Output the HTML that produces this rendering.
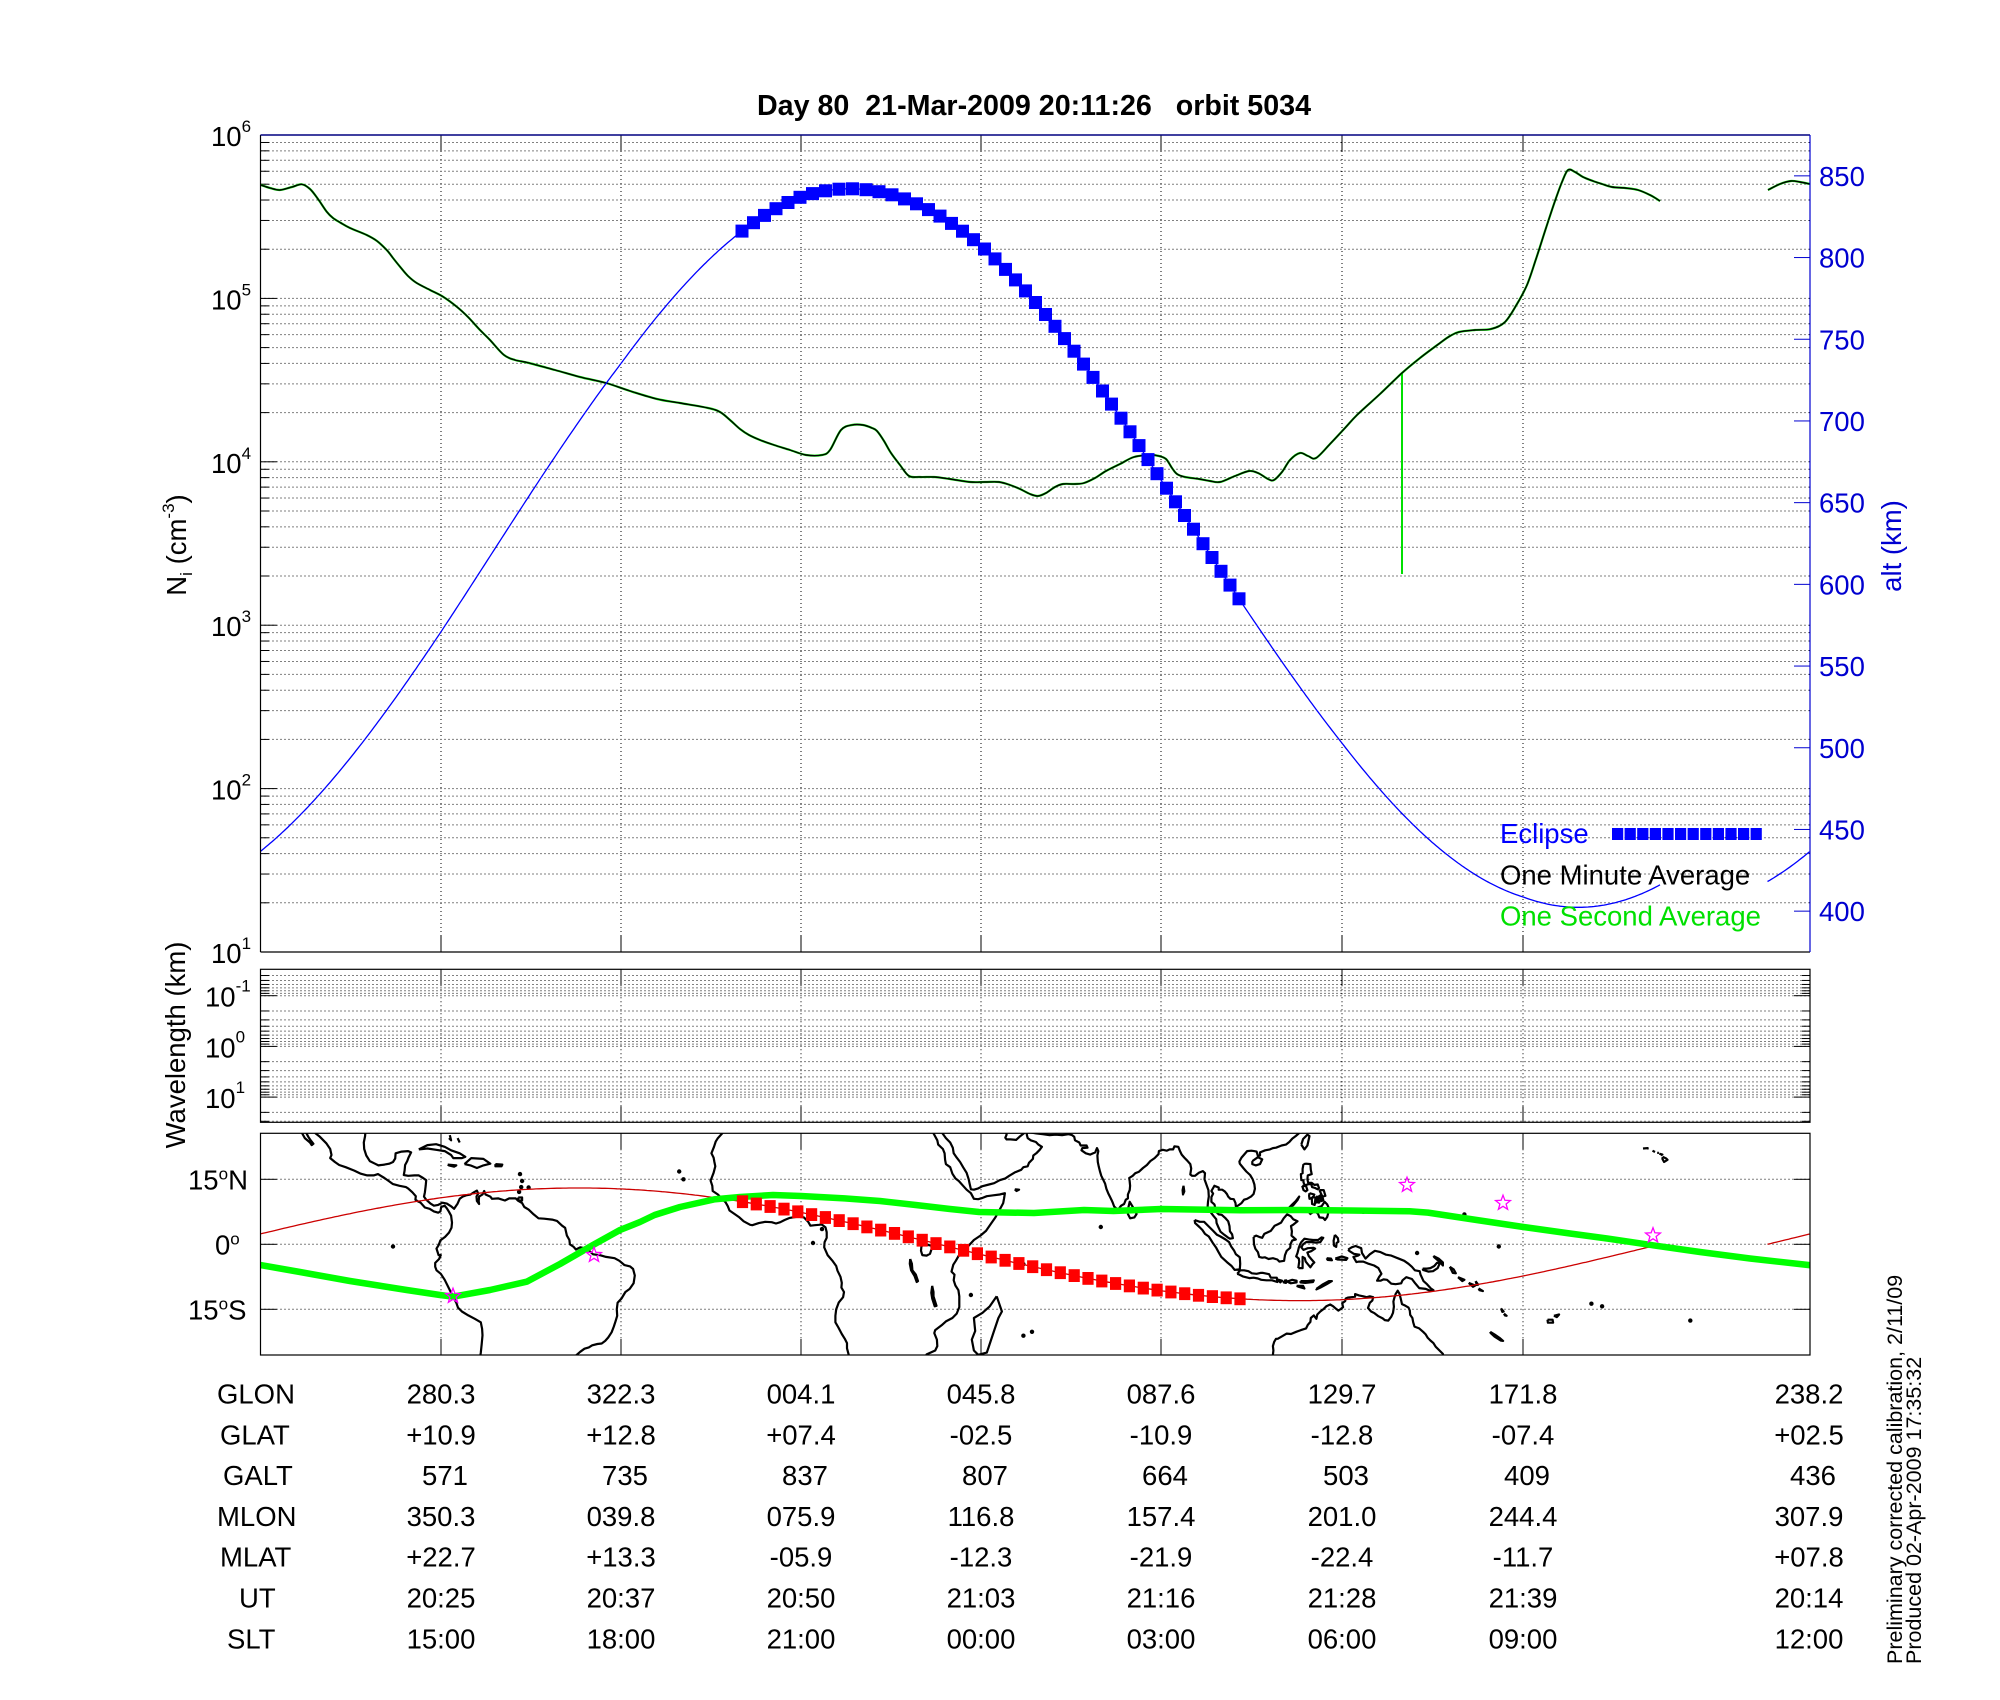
<!DOCTYPE html>
<html><head><meta charset="utf-8">
<style>
html,body{margin:0;padding:0;background:#fff;}
svg{display:block;}
text{font-family:"Liberation Sans",Arial,Helvetica,sans-serif;}
</style></head>
<body>
<svg id="s" width="2000" height="1700" viewBox="0 0 2000 1700" xmlns="http://www.w3.org/2000/svg">
<rect width="2000" height="1700" fill="#fff"/>
<defs>
<clipPath id="cTop"><rect x="260.5" y="135" width="1549.5" height="817"/></clipPath>
<clipPath id="cMap"><rect x="260.5" y="1133.3" width="1549.5" height="221.7"/></clipPath>
</defs>
<g id="dyn"></g>

<!-- Title -->
<text x="757" y="115" font-size="28.5" font-weight="bold" textLength="554" lengthAdjust="spacingAndGlyphs" xml:space="preserve" style="white-space:pre">Day 80  21-Mar-2009 20:11:26   orbit 5034</text>

<!-- Left tick labels top panel -->
<g font-size="27.5" fill="#000">
<text x="211" y="146">10<tspan font-size="17" dy="-14">6</tspan></text>
<text x="211" y="309.4">10<tspan font-size="17" dy="-14">5</tspan></text>
<text x="211" y="472.8">10<tspan font-size="17" dy="-14">4</tspan></text>
<text x="211" y="636.2">10<tspan font-size="17" dy="-14">3</tspan></text>
<text x="211" y="799.6">10<tspan font-size="17" dy="-14">2</tspan></text>
<text x="211" y="963">10<tspan font-size="17" dy="-14">1</tspan></text>
</g>

<!-- Right alt labels -->
<g font-size="27.5" fill="#0000d0">
<text x="1819" y="186">850</text>
<text x="1819" y="267.7">800</text>
<text x="1819" y="349.4">750</text>
<text x="1819" y="431">700</text>
<text x="1819" y="512.7">650</text>
<text x="1819" y="594.4">600</text>
<text x="1819" y="676">550</text>
<text x="1819" y="757.8">500</text>
<text x="1819" y="839.5">450</text>
<text x="1819" y="921.2">400</text>
</g>
<text transform="translate(1901,546) rotate(-90)" text-anchor="middle" font-size="27.5" fill="#0000d0">alt (km)</text>
<text transform="translate(186,545) rotate(-90)" text-anchor="middle" font-size="27.5" fill="#000">N<tspan font-size="17" dy="6">i</tspan><tspan dy="-6"> (cm</tspan><tspan font-size="17" dy="-12">-3</tspan><tspan dy="12">)</tspan></text>

<!-- Legend -->
<text x="1500" y="843" font-size="27.5" fill="#0000ff">Eclipse</text>
<text x="1500" y="884.4" font-size="27.5" fill="#000">One Minute Average</text>
<text x="1500" y="925.4" font-size="27.5" fill="#00e000">One Second Average</text>

<!-- Middle panel labels -->
<g font-size="27.5" fill="#000">
<text x="205" y="1006.5">10<tspan font-size="17" dy="-15">-1</tspan></text>
<text x="205" y="1057.4">10<tspan font-size="17" dy="-15">0</tspan></text>
<text x="205" y="1108">10<tspan font-size="17" dy="-15">1</tspan></text>
</g>
<text transform="translate(185,1045) rotate(-90)" text-anchor="middle" font-size="27.5" fill="#000">Wavelength (km)</text>

<!-- Map labels -->
<g font-size="27.5" fill="#000">
<text x="188" y="1189.3">15<tspan font-size="17" dy="-10">o</tspan><tspan dy="10">N</tspan></text>
<text x="215" y="1254.3">0<tspan font-size="17" dy="-10">o</tspan></text>
<text x="188" y="1319.3">15<tspan font-size="17" dy="-10">o</tspan><tspan dy="10">S</tspan></text>
</g>

<!-- Table -->
<g font-size="27.5" fill="#000">
<text x="217" y="1403.5">GLON</text>
<text x="220" y="1444.3">GLAT</text>
<text x="223" y="1485.1">GALT</text>
<text x="217" y="1525.9">MLON</text>
<text x="220" y="1566.7">MLAT</text>
<text x="239" y="1607.5">UT</text>
<text x="227" y="1648.3">SLT</text>
</g>
<g font-size="27.5" fill="#000" text-anchor="middle">
<text x="441" y="1403.5">280.3</text><text x="621" y="1403.5">322.3</text><text x="801" y="1403.5">004.1</text><text x="981" y="1403.5">045.8</text><text x="1161" y="1403.5">087.6</text><text x="1342" y="1403.5">129.7</text><text x="1523" y="1403.5">171.8</text><text x="1809" y="1403.5">238.2</text>
<text x="441" y="1444.3">+10.9</text><text x="621" y="1444.3">+12.8</text><text x="801" y="1444.3">+07.4</text><text x="981" y="1444.3">-02.5</text><text x="1161" y="1444.3">-10.9</text><text x="1342" y="1444.3">-12.8</text><text x="1523" y="1444.3">-07.4</text><text x="1809" y="1444.3">+02.5</text>
<text x="445" y="1485.1">571</text><text x="625" y="1485.1">735</text><text x="805" y="1485.1">837</text><text x="985" y="1485.1">807</text><text x="1165" y="1485.1">664</text><text x="1346" y="1485.1">503</text><text x="1527" y="1485.1">409</text><text x="1813" y="1485.1">436</text>
<text x="441" y="1525.9">350.3</text><text x="621" y="1525.9">039.8</text><text x="801" y="1525.9">075.9</text><text x="981" y="1525.9">116.8</text><text x="1161" y="1525.9">157.4</text><text x="1342" y="1525.9">201.0</text><text x="1523" y="1525.9">244.4</text><text x="1809" y="1525.9">307.9</text>
<text x="441" y="1566.7">+22.7</text><text x="621" y="1566.7">+13.3</text><text x="801" y="1566.7">-05.9</text><text x="981" y="1566.7">-12.3</text><text x="1161" y="1566.7">-21.9</text><text x="1342" y="1566.7">-22.4</text><text x="1523" y="1566.7">-11.7</text><text x="1809" y="1566.7">+07.8</text>
<text x="441" y="1607.5">20:25</text><text x="621" y="1607.5">20:37</text><text x="801" y="1607.5">20:50</text><text x="981" y="1607.5">21:03</text><text x="1161" y="1607.5">21:16</text><text x="1342" y="1607.5">21:28</text><text x="1523" y="1607.5">21:39</text><text x="1809" y="1607.5">20:14</text>
<text x="441" y="1648.3">15:00</text><text x="621" y="1648.3">18:00</text><text x="801" y="1648.3">21:00</text><text x="981" y="1648.3">00:00</text><text x="1161" y="1648.3">03:00</text><text x="1342" y="1648.3">06:00</text><text x="1523" y="1648.3">09:00</text><text x="1809" y="1648.3">12:00</text>
</g>

<!-- Side notes -->
<text transform="translate(1902,1664) rotate(-90)" font-size="21.5" fill="#000">Preliminary corrected calibration, 2/11/09</text>
<text transform="translate(1921,1664) rotate(-90)" font-size="21.5" fill="#000">Produced 02-Apr-2009 17:35:32</text>
</svg>

<script>
(function(){
const NS='http://www.w3.org/2000/svg';
const root=document.getElementById('dyn');
function E(tag,a,p){const e=document.createElementNS(NS,tag);for(const k in a)e.setAttribute(k,a[k]);(p||root).appendChild(e);return e;}
function L(x1,y1,x2,y2,c,w,d,p){const a={x1:x1,y1:y1,x2:x2,y2:y2,stroke:c||'#000','stroke-width':w||1};if(d)a['stroke-dasharray']=d;return E('line',a,p);}
function smooth(pts){let d='M'+pts[0][0].toFixed(1)+','+pts[0][1].toFixed(1);for(let i=0;i<pts.length-1;i++){const p0=pts[i-1]||pts[i],p1=pts[i],p2=pts[i+1],p3=pts[i+2]||pts[i+1];const c1x=p1[0]+(p2[0]-p0[0])/6,c1y=p1[1]+(p2[1]-p0[1])/6,c2x=p2[0]-(p3[0]-p1[0])/6,c2y=p2[1]-(p3[1]-p1[1])/6;d+=' C'+c1x.toFixed(1)+','+c1y.toFixed(1)+' '+c2x.toFixed(1)+','+c2y.toFixed(1)+' '+p2[0].toFixed(1)+','+p2[1].toFixed(1);}return d;}
const XL=260.5,XR=1810,cols=[441,621,801,981,1161,1342,1523],DOT='1 3';

/* ================= TOP PANEL ================= */
const T=135,B=952;
function yN(v){return B-(Math.log10(v)-1)*163.4;}
for(let k=1;k<=5;k++)for(let m=1;m<=9;m++){const y=yN(m*Math.pow(10,k));if(y>=B-0.5||y<=T+0.5)continue;L(XL,y,XR,y,'#000',1,DOT);L(XL,y,XL+(m==1?16:8),y,'#000',1);}
L(XL,T,XL+16,T,'#000',1);
cols.forEach(x=>{L(x,T,x,B,'#000',1,DOT);L(x,B,x,B-16,'#000',1);L(x,T,x,T+16,'#000',1);});
function yA(a){return T+(875-a)*1.634;}
for(let a=400;a<=850;a+=50){const y=yA(a);L(XR-16,y,XR,y,'#0000d0',1);}

/* Ni curve */
const ni=[[260.7,185],[270,188],[280,190],[292,187],[301.7,184.3],[310,189],[318,199],[326.7,211.7],[333,218],[341,223],[350,228],[366.7,235],[377,241],[386.7,250],[393,258],[400,266.7],[408,276],[416.7,283],[430,290],[443,296.7],[456.7,306.7],[468,317],[480,330],[490,340],[504,355],[515,360],[529,363],[555,370],[580,377],[606,383],[630,391],[657,399],[680,403],[708,408],[720,412],[730,420],[740,429],[749,435],[760,440],[774,445],[790,450],[806,455],[822,455],[830,450],[841,430],[852,425],[863,425],[872,428],[877,431],[884,441],[891,453],[900,465],[909,476],[920,477],[934,477],[950,479],[970,482],[985,482],[999,482],[1010,485],[1020,489],[1030,494],[1038,496],[1046,493],[1055,487],[1063,484],[1075,484],[1084,483],[1095,478],[1106,471],[1120,464],[1134,457],[1150,455],[1159,456],[1166,459],[1172,468],[1177,474],[1185,477],[1199,479],[1210,481],[1220,482],[1235,476],[1249,471],[1258,473],[1268,479],[1274,480],[1282,472],[1290,460],[1300,453],[1308,456],[1316,458],[1330,444],[1345,428],[1357,415],[1380,394],[1402,373],[1420,358],[1440,343],[1450,336],[1459,332],[1475,330],[1491,329],[1505,322],[1517,304],[1527,285],[1536,259],[1546,228],[1555,201],[1562,182],[1568,170],[1575,172],[1583,177],[1593,181],[1602,184],[1612,187],[1625,188],[1638,190],[1650,195],[1660,201]];
const ni2=[[1768,190],[1780,184],[1791,181],[1800,182],[1810,184]];
const gTop=E('g',{'clip-path':'url(#cTop)'});
E('path',{d:smooth(ni)+' '+smooth(ni2),fill:'none',stroke:'#00e000','stroke-width':2.2},gTop);
L(1402,373,1402,574,'#00e000',2,null,gTop);
E('path',{d:smooth(ni)+' '+smooth(ni2),fill:'none',stroke:'#000','stroke-width':1.4},gTop);

/* altitude */
function corr(u){const P=[[218,0],[260,0],[441,-3.5],[621,-5],[742,-1.5],[801,0],[981,-1.5],[1161,-7.6],[1239,-6],[1342,-2],[1523,1],[1660,-2]];if(u<=P[0][0])return P[0][1];for(let i=1;i<P.length;i++){if(u<=P[i][0]){const t=(u-P[i-1][0])/(P[i][0]-P[i-1][0]);return P[i-1][1]+t*(P[i][1]-P[i-1][1]);}}return P[P.length-1][1];}
function alt(u){return 622.5+220*Math.cos(2*Math.PI*(u-852)/1442)+corr(u);}
let d='';for(let u=260;u<=1660;u+=2){d+=(u==260?'M':'L')+u+','+yA(alt(u)).toFixed(1)+' ';}
for(let u=218;u<=260;u+=2){d+=(u==218?'M':'L')+(u+1549.5)+','+yA(alt(u)).toFixed(1)+' ';}
E('path',{d:d,fill:'none',stroke:'#0000ff','stroke-width':1.3},gTop);
/* eclipse markers */
{const pts=[];for(let u=742;u<=1239;u+=0.5)pts.push([u,yA(alt(u))]);
 const par=[0];for(let i=1;i<pts.length;i++)par.push(par[i-1]+(pts[i][0]-pts[i-1][0])+0.34*Math.abs(pts[i][1]-pts[i-1][1]));
 const tot=par[par.length-1];const N=Math.round(tot/13.8)+1;let j=0;
 for(let n=0;n<N;n++){const s=tot*n/(N-1);while(j<par.length-1&&par[j]<s)j++;const p=pts[j];E('rect',{x:(p[0]-6.5).toFixed(1),y:(p[1]-6.5).toFixed(1),width:13,height:13,fill:'#0000ff'},gTop);}
}
/* legend squares */
for(let i=0;i<12;i++)E('rect',{x:1612+i*12.6,y:828,width:11.2,height:12,fill:'#0000ff'});

/* borders */
L(XL,T,XL,B,'#000',1.2);L(XL,B,XR,B,'#000',1.2);L(XL,T,XR,T,'#000080',1.6);L(XR,T,XR,B,'#0000d0',1.2);

/* ================= MIDDLE PANEL ================= */
const MT=969.3,MB=1122.3;
function yW(v){return 995.7+(Math.log10(v)+1)*50.7;}
for(let k=-2;k<=1;k++)for(let m=1;m<=9;m++){const y=yW(m*Math.pow(10,k));if(y<=MT+0.5||y>=MB-0.5)continue;L(XL,y,XR,y,'#000',1,DOT);const tl=m==1?16:8;L(XL,y,XL+tl,y,'#000',1);L(XR-tl,y,XR,y,'#000',1);}
cols.forEach(x=>{L(x,MT,x,MB,'#000',1,DOT);L(x,MT,x,MT+16,'#000',1);L(x,MB,x,MB-16,'#000',1);});
E('rect',{x:XL,y:MT,width:XR-XL,height:MB-MT,fill:'none',stroke:'#000','stroke-width':1.2});

/* ================= MAP PANEL ================= */
const PT=1133.3,PB=1355;
function mx(lon){let g=((lon%360)+360)%360;if(g<238.2)g+=360;return 260.5+(g-238.2)*4.3028;}
function my(lat){return 1244.3-lat*4.3333;}
[15,0,-15].forEach(l=>{const y=my(l);L(XL,y,XR,y,'#000',1,DOT);L(XL,y,XL+16,y,'#000',1);L(XR-16,y,XR,y,'#000',1);});
cols.forEach(x=>{L(x,PT,x,PB,'#000',1,DOT);L(x,PT,x,PT+16,'#000',1);L(x,PB,x,PB-16,'#000',1);});
const gMap=E('g',{'clip-path':'url(#cMap)'});
const coasts=[
[[-109.5,26.5],[-109,25.6],[-108,24.8],[-106.5,23.3],[-105.6,22],[-105.3,20.6],[-105.6,19.9],[-104.5,19],[-103.5,18.3],[-102,17.8],[-100,17],[-98.5,16.3],[-97,15.9],[-95.5,15.9],[-94.5,16.2],[-93,15.3],[-92,14.6],[-91,13.9],[-89.5,13.5],[-88,13.2],[-87.5,12.9],[-86.5,12],[-85.7,11.1],[-85.8,10.3],[-85.2,9.9],[-84.6,9.6],[-83.6,8.5],[-82.5,8.2],[-81.5,7.6],[-80.5,7.3],[-80,7.6],[-79.8,8.6],[-79,8.9],[-78.5,8.3],[-78,7.5],[-77.5,6.6],[-77.3,5],[-77.4,3.8],[-78,2.7],[-78.9,1.7],[-80,0.9],[-80.4,-0.2],[-80.9,-1],[-80.4,-2.5],[-79.9,-2.5],[-80.3,-3.4],[-81.2,-4.3],[-81.2,-5.2],[-80.9,-6],[-79.9,-6.8],[-79,-8.2],[-78.3,-9.6],[-77.2,-11.8],[-76.3,-13.5],[-75.9,-14.6],[-75,-15.5],[-73.5,-16.4],[-72,-17.2],[-70.6,-18],[-70.3,-19.5],[-70.2,-21],[-70.4,-23],[-70.6,-25],[-70.8,-26.5]],
[[-112.1,26.5],[-112.1,25.6],[-111.5,24.5],[-110.3,23.5],[-109.9,22.9],[-109.5,23.2],[-110.3,24.2],[-110.7,24.8],[-111.1,25.6],[-111.5,26.5]],
[[-97.4,26.5],[-97.5,25],[-97.8,23.5],[-97.7,22],[-97.2,20.5],[-96.4,19.2],[-95.2,18.6],[-94.4,18.2],[-93,18.4],[-91.9,18.6],[-91,19],[-90.5,19.8],[-90.4,21],[-89,21.4],[-87.5,21.5],[-86.8,21.2],[-87.4,20],[-87.7,19.2],[-88.2,18.3],[-88.3,17],[-88.5,16],[-87.5,15.8],[-86,15.9],[-85,15.9],[-84,15.3],[-83.3,14.8],[-83.4,13.5],[-83.6,12],[-83.8,11],[-83.3,10.3],[-82.3,9.4],[-81.5,8.9],[-80.5,9.1],[-79.5,9.6],[-78.5,9.4],[-77.4,8.7],[-76.8,8.2],[-76,9.4],[-75.5,10.5],[-74.8,11],[-74,11.3],[-73,11.5],[-72.2,12],[-71.5,12.4],[-71.2,11.7],[-71.6,11],[-71.5,10],[-71,9.3],[-71.1,10],[-71,11],[-70.2,11.5],[-69.8,12.3],[-69.5,11.5],[-68.4,11],[-68,10.5],[-66.5,10.6],[-65,10.1],[-64,10.6],[-62.5,10.6],[-62,10.1],[-61,9.5],[-60.5,8.6],[-59.5,8],[-58.3,6.9],[-57.2,6],[-55.9,5.9],[-54,5.7],[-52.9,5.4],[-51.7,4.3],[-51,3.8],[-50.6,2],[-50,1],[-49.9,0],[-49,-0.6],[-48.5,-1.2],[-47.5,-0.7],[-46,-1],[-44.5,-2.3],[-43,-2.5],[-41.5,-2.9],[-39.5,-3.2],[-38.4,-3.8],[-37.2,-4.8],[-35.9,-5.1],[-35.2,-5.7],[-34.8,-7.2],[-35.1,-9],[-36,-10.3],[-37,-11],[-37.9,-12.5],[-38.8,-13.5],[-39,-15],[-38.9,-16.5],[-39.3,-17.8],[-39.7,-19],[-40.2,-20.3],[-41,-21.5],[-41.7,-22.3],[-42.5,-22.9],[-43.5,-23],[-44.7,-23.3],[-45.5,-23.8],[-46.5,-24.1],[-47.5,-24.8],[-48.4,-25.6],[-48.6,-26.5]],
[[-85,21.9],[-83,22.9],[-81,23.1],[-79,22.5],[-77.5,21.7],[-75.5,21],[-74.2,20.2],[-75,19.9],[-77,19.9],[-77.5,20.6],[-79,21.5],[-81,21.8],[-83,22.1],[-85,21.9]],
[[-74.4,18.5],[-72.8,19.9],[-70,19.7],[-68.4,18.6],[-70,18.2],[-71.5,17.6],[-73,18.2],[-74.4,18.5]],
[[-78.3,18.4],[-76.3,18.2],[-76.8,17.9],[-78,18.2],[-78.3,18.4]],
[[-67.2,18.5],[-65.6,18.4],[-65.8,18],[-67.2,18],[-67.2,18.5]],
[[-78,24.5],[-77.5,24],[-77.8,25.2]],[[-76,24.5],[-75.5,23.5]],
[[-61.9,10.8],[-61,10.8],[-61,10.1],[-61.9,10.1],[-61.9,10.8]],
[[-14.5,26.5],[-14.5,25.6],[-15.5,24.5],[-16,23.7],[-16.4,22.5],[-17,21],[-16.5,20],[-16.3,19],[-16.1,18],[-16.5,16.5],[-17.2,14.7],[-16.8,13.5],[-16.7,12.3],[-15.5,11.5],[-15,11],[-14.5,10.5],[-13.7,9.7],[-13.2,8.8],[-12.8,7.8],[-11.5,6.9],[-10.5,6.2],[-9.5,5.3],[-8,4.5],[-7.5,4.4],[-6,4.9],[-4.5,5.2],[-3,5.1],[-2,4.8],[-1,5.1],[0,5.6],[1.2,6.1],[2.5,6.3],[3.5,6.4],[4.5,6.2],[5.5,5.2],[6,4.3],[7,4.4],[8,4.5],[8.6,4.6],[9.5,3.9],[9.8,2.8],[9.8,1.5],[9.3,0.5],[9.2,-0.7],[10,-2.5],[11.2,-3.9],[12,-5],[12.3,-6.1],[13,-7.5],[13.3,-8.9],[13.2,-10],[13.8,-11],[13.6,-12.2],[12.6,-13.4],[12,-15],[11.8,-16.5],[11.8,-18],[12.5,-19.2],[13.3,-20.7],[14,-21.8],[14.5,-22.8],[14.5,-24],[14.9,-25.5],[15.2,-26.5]],
[[34.3,26.5],[34.6,25.6],[35.5,24],[35.7,23],[36.8,22],[37.2,21],[37.3,19.5],[37.5,18.5],[38.5,17.8],[39,16.3],[39.7,15.2],[40.5,14.6],[41.5,13.5],[42.3,12.6],[43.3,11.8],[44,10.5],[45,10.4],[46,10.7],[47,11.1],[48.5,11.3],[50,11.5],[51.2,11.8],[51,10.5],[50.8,9.5],[50,8],[49,6.2],[48,4.8],[46.8,3.1],[45.5,2],[44,1],[42.6,-0.5],[41.5,-1.8],[40.5,-2.6],[39.8,-3.8],[39.2,-4.7],[38.8,-6.3],[39.5,-7],[39.3,-8.3],[39.7,-9.5],[40.4,-10.6],[40.6,-12],[40.6,-14.5],[40,-16],[39,-17],[37.5,-17.8],[36.5,-18.7],[35,-19.8],[34.8,-20.5],[35.4,-22],[35.5,-23.5],[35,-24.5],[33,-25.4],[32.6,-26.5]],
[[49.3,-12],[50.5,-15.5],[49.7,-17],[48.5,-20.5],[47.5,-23.5],[47,-25],[45,-25.5],[44,-24.5],[43.5,-22],[44.3,-20],[44,-17],[46,-15.8],[47.7,-14.3],[49.3,-12]],
[[33.5,-0.2],[34.1,-0.3],[34.2,-1],[33.8,-2.2],[33,-2.6],[32,-2.5],[31.7,-1.5],[31.8,-0.5],[32.5,0.2],[33.5,-0.2]],
[[29.2,-3.4],[29.6,-4.5],[29.7,-6],[30.5,-7],[31,-8.5],[30.7,-8.7],[30.2,-7.3],[29.4,-6],[29.1,-4.5],[29.2,-3.4]],
[[34.3,-9.6],[34.6,-11],[34.6,-12],[35.3,-14.2],[34.9,-14.3],[34.3,-12.5],[34.1,-11.2],[34.3,-9.6]],
[[36.3,26.5],[36.7,25.6],[37.5,24.5],[38.5,23.5],[39.1,22.3],[39.3,21],[40,20],[40.8,19],[41.5,17.8],[42.3,16.5],[42.8,15],[43,14],[43.3,12.7],[44,12.6],[45,12.9],[46,13.4],[47.5,13.8],[48.7,14.1],[50,14.8],[51.3,15.2],[52.2,15.8],[53.5,16.6],[55,17.2],[55.5,17.8],[56.5,18],[56.8,18.8],[57.7,19.7],[57.8,20.5],[58.5,21],[59.3,21.8],[59.8,22.5],[59,23],[58.4,23.6],[57.2,24],[56.5,24.5],[56.3,25.3],[56.4,26.3]],
[[56.1,26.2],[55.6,25.6],[54.6,24.8],[53.8,24.1],[52.5,24.2],[51.6,24.2],[51.3,24.6],[51.6,25.3],[51.4,26.2]],
[[53.5,12.7],[54.5,12.6],[53.9,12.3],[53.5,12.7]],
[[57,27],[57.3,25.8],[58.5,25.6],[60,25.4],[61.6,25.2],[63,25.3],[64.5,25.2],[66,25.4],[66.8,25.2],[67.3,24.8],[67.5,24],[68.5,23.5],[68.8,22.8],[70.2,22.8],[70.4,22.3],[69.2,22.2],[69,21.7],[70,21],[71,20.7],[72.2,21.2],[72.6,22.2],[72.9,21.5],[72.7,20.5],[72.8,19],[73,18],[73.3,16.8],[73.6,15.8],[74,15],[74.5,14],[74.8,12.8],[75.2,11.8],[75.6,11],[76,10.2],[76.3,9.5],[76.6,8.7],[77.2,8.2],[77.6,8.1],[78.2,8.9],[78.9,9.3],[79.3,10.3],[79.8,10.6],[79.8,11.5],[80.2,12.5],[80.3,13.5],[80.2,14.5],[80.1,15.3],[80.9,15.8],[81.5,16.4],[82.3,16.7],[83.3,17.6],[84.2,18.3],[85,19.2],[86,19.9],[86.9,20.8],[87,21.5],[87.9,21.8],[88.8,21.6],[89.5,21.9],[90.3,21.9],[90.6,22.6],[91.5,22.5],[91.9,21.5],[92.3,20.7],[92.9,20],[93.6,19.3],[94.3,18.5],[94.5,17.5],[94.3,16.1],[94.7,15.8],[95.4,15.8],[96.3,16.5],[97.2,16.9],[97.7,16.4],[97.6,15],[98.1,13.6],[98.5,12.5],[98.6,11],[98.4,9.8],[98.3,8.3],[98.6,7.9],[99.1,7.3],[99.7,6.5],[100.3,5.8],[100.4,4.9],[100.8,4],[101.3,2.9],[102.2,2.2],[103,1.6],[103.5,1.3],[104.2,1.4],[104,2.3],[103.5,3],[103.4,4.2],[103.1,5.3],[102.4,6.1],[101.6,6.8],[100.9,6.9],[100.4,7.4],[100.1,8.4],[99.9,9.2],[99.2,9.8],[99.2,10.9],[99.6,11.7],[99.2,12.3],[99.9,13.5],[100.1,13.4],[100.9,13.1],[100.9,12.6],[101.7,12.6],[102.3,12.2],[102.8,11.6],[103.1,11],[103.6,10.5],[104.4,10.4],[104.8,9.5],[104.9,8.7],[105.5,9],[106.2,9.5],[106.8,10.3],[107.5,10.5],[108.4,11],[109,11.6],[109.3,12.8],[109.2,13.8],[108.8,15],[108.2,16],[107.3,16.8],[106.6,17.6],[105.8,18.6],[105.7,19.1],[106.2,20],[106.8,20.7],[107.5,21.5],[108.5,21.6],[109.1,21.5],[109.7,21.4],[110,20.4],[110.5,20.5],[110.5,21.2],[111.7,21.7],[112.8,21.9],[113.5,22.2],[114.2,22.3],[115.5,22.8],[116.5,23],[117.3,23.6],[118,24.4],[118.8,25],[119.5,25.6],[119.6,26.5]],
[[79.8,8],[80.2,9.8],[81,8.5],[81.8,7],[81.3,6.2],[80.3,6],[79.8,7],[79.8,8]],
[[108.7,19.2],[110,20.1],[111,19.6],[110.5,18.5],[109.5,18.2],[108.7,18.5],[108.7,19.2]],
[[120.1,23],[120.8,21.9],[121.5,22.8],[122,25],[121.5,25.3],[120.5,24.3],[120.1,23]],
[[92.7,13.5],[92.9,12.2],[92.6,11.5],[92.5,12.5],[92.7,13.5]],
[[95.3,5.6],[96.5,5.2],[97.5,5.2],[98.5,4.2],[99.5,3.2],[100.5,2.2],[101.3,1.8],[102.5,1.1],[103.3,0.5],[103.8,-0.5],[104.5,-1.5],[104.9,-2.3],[105.8,-3],[105.9,-4.5],[105.8,-5.8],[104.6,-5.9],[103.9,-5],[102.8,-4.1],[101.5,-2.9],[100.8,-1.7],[100.3,-0.8],[99.6,0.2],[99.1,1],[98.6,1.8],[97.7,2.4],[97.1,3.3],[96.4,4],[95.4,4.9],[95.3,5.6]],
[[105.2,-6.8],[105.9,-6],[106.8,-6],[107.8,-6.2],[108.6,-6.7],[109.7,-6.8],[110.6,-6.6],[111.2,-6.6],[112.6,-6.9],[113,-7.7],[114.4,-7.7],[114.5,-8.7],[113.3,-8.3],[112,-8.3],[110.8,-8.2],[110,-7.9],[109,-7.7],[108,-7.8],[106.5,-7.4],[105.7,-7],[105.2,-6.8]],
[[114.5,-8.1],[115.6,-8.4],[115.2,-8.8],[114.5,-8.1]],
[[116.1,-8.4],[116.6,-8.3],[116.5,-8.9],[116,-8.8],[116.1,-8.4]],
[[116.8,-8.6],[118,-8.2],[119,-8.4],[119,-8.8],[117.6,-9],[116.8,-8.6]],
[[119.9,-8.5],[121.5,-8.5],[123,-8.3],[122.8,-8.7],[121,-8.9],[119.9,-8.8],[119.9,-8.5]],
[[119,-9.6],[120.5,-9.6],[120.8,-10.2],[119.5,-9.8],[119,-9.6]],
[[123.6,-10.3],[125,-9.3],[126.5,-8.5],[127.2,-8.5],[126,-9.2],[124.5,-10],[123.6,-10.4],[123.6,-10.3]],
[[109,1.7],[109.6,2],[110.3,1.7],[111,1.5],[111.5,2.4],[113,3.1],[113.9,4.3],[114.6,4.6],[115.4,5],[116,6],[116.8,6.9],[117.6,6.5],[118.2,5.8],[119.2,5.3],[118.3,4.6],[117.7,4.2],[117.9,3],[117.8,2],[118.8,1.1],[118,0.9],[117.6,0.1],[117.5,-0.8],[116.7,-1.5],[116.3,-2.5],[116.1,-3.8],[115,-4],[114.5,-3.5],[113.5,-3.2],[112.5,-3.4],[111.6,-3],[111,-3.1],[110.3,-2.9],[110,-1.8],[109.4,-1],[109.1,0],[109,1.7]],
[[119.4,-5.5],[119.6,-4],[119.5,-3.3],[118.9,-2.8],[119.2,-2],[119.5,-0.8],[119.8,0],[120.1,0.5],[120.8,1.3],[121.8,1.1],[122.8,1],[124,1],[124.8,1.6],[125.2,1.5],[124.5,0.5],[123.5,0.4],[122.5,0.5],[121.2,0.5],[120.5,0],[120.1,-0.7],[120.6,-1.3],[121.6,-0.9],[122.9,-0.8],[123.3,-1],[122.4,-1.6],[121.5,-1.9],[121.8,-2.7],[122.4,-3.4],[123.1,-4.2],[122.7,-4.6],[122.2,-5.3],[121.6,-4.6],[121.1,-4],[120.9,-3.2],[120.4,-2.9],[120.4,-3.8],[120.4,-5.5],[119.4,-5.5]],
[[127.9,2.2],[128.6,1.4],[128.7,0.6],[128.3,0.3],[128.2,-0.6],[127.7,-0.3],[127.6,0.8],[127.9,2.2]],
[[128,-3.3],[129.5,-2.8],[130.8,-3.2],[130.5,-3.6],[128.5,-3.5],[128,-3.3]],
[[126,-3.2],[127,-3.3],[127.2,-3.7],[126.2,-3.6],[126,-3.2]],
[[120.6,18.5],[121.2,18.6],[122.2,18.5],[122.3,17.2],[122.5,16.2],[121.6,15.9],[121.5,15],[121.7,14.2],[122.5,14.2],[123.1,13.7],[123.9,13.8],[124.2,13],[123.9,12.7],[123.3,13],[122.6,13.2],[122.4,13.9],[121.8,13.9],[120.9,13.6],[120.6,14.3],[120.6,14.8],[120.1,14.8],[120,16.2],[120.4,16.4],[120.4,17.4],[120.6,18.5]],
[[120.3,13.5],[121.2,13.4],[121.5,12.5],[121.1,12.2],[120.6,12.5],[120.3,13.5]],
[[124.3,12.5],[125.3,12.5],[125.7,11.2],[125,11],[124.3,12.5]],
[[124.3,11.4],[125,11],[125.2,10.2],[124.8,10],[124.3,11.4]],
[[122,11.8],[123.1,11.5],[122.8,10.8],[122,10.5],[121.9,11.2],[122,11.8]],
[[122.5,10.9],[123.4,10.8],[123.2,9.1],[122.6,9.3],[122.5,10.9]],
[[123.8,11.2],[124.1,10.5],[123.4,9.5],[123.8,11.2]],
[[123.8,10.2],[124.5,10.1],[124.2,9.6],[123.8,9.7],[123.8,10.2]],
[[122,6.9],[122.5,7.8],[123.5,7.8],[123.9,8.5],[124.8,8.8],[125.5,9.8],[126.1,9.2],[126.5,8.3],[126.3,7],[126.1,6.3],[125.6,5.6],[125.2,6.1],[124.3,6.2],[124,7],[123.5,7.5],[122.8,7.4],[122,6.9]],
[[117.2,8.4],[118,9.2],[118.8,10],[119.6,11],[119.2,10.2],[118.2,9],[117.2,8.4]],
[[131,-1.2],[131.8,-0.7],[132.7,-0.4],[134,-0.9],[134.2,-2],[135,-3.3],[136,-2.3],[137.2,-1.5],[138.5,-1.8],[139.8,-2.4],[141,-2.6],[142.5,-3.2],[144,-3.8],[145,-4.5],[145.8,-5.2],[146.5,-6],[147.6,-6.2],[147.8,-7],[148.5,-8.5],[149.3,-9.2],[150.2,-10.2],[150.8,-10.6],[150,-10.7],[149,-10.3],[147.5,-10.1],[146.5,-8.9],[145.8,-8],[144.5,-7.6],[143.6,-8.3],[143.3,-9],[142,-9.2],[141,-9.1],[140,-8.2],[139.2,-8.1],[138.5,-8.4],[137.7,-8.4],[138.2,-7.5],[138.7,-6.8],[138,-5.5],[137,-4.9],[135.5,-4.4],[134.5,-4],[133.5,-4],[132.9,-4.1],[132.2,-2.9],[133.3,-2.6],[133.6,-2.4],[132.3,-2.2],[131.2,-1.5],[131,-1.2]],
[[148.3,-5.6],[149.3,-5.6],[150.1,-5.5],[151,-5],[151.6,-4.3],[152.3,-4.3],[151.8,-5.5],[150.7,-6.2],[149.6,-6.3],[148.4,-5.9],[148.3,-5.6]],
[[150.8,-2.7],[152,-3.3],[153,-4.2],[153,-4.9],[152.3,-4.1],[151,-3],[150.8,-2.7]],
[[154.6,-5.2],[155.5,-5.8],[156,-6.7],[155.3,-6.6],[154.6,-5.2]],
[[156.5,-7.6],[158,-8.2],[157.5,-8.5],[156.5,-7.6]],
[[159,-8.9],[160.5,-9.5],[160,-9.8],[159,-8.9]],
[[160.6,-8.5],[161.2,-9.3],[160.9,-9.4],[160.6,-8.5]],
[[161.3,-10.2],[162.3,-10.8],[161.5,-10.6],[161.3,-10.2]],
[[166.5,-14.8],[167.1,-15.5],[166.8,-15.6],[166.5,-14.8]],
[[167.2,-16],[167.8,-16.5],[167.4,-16.4],[167.2,-16]],
[[164,-20.2],[165,-20.8],[166.3,-21.7],[167,-22.3],[166.4,-22.2],[165,-21.3],[164.1,-20.5],[164,-20.2]],
[[177.3,-17.4],[178.5,-17.4],[178.6,-18.1],[177.4,-18.1],[177.3,-17.4]],
[[178.8,-16.5],[180,-16.2],[179.5,-16.8],[178.8,-16.5]],
[[113.2,-26.5],[113.5,-25.5],[113.6,-24.5],[113.5,-23.5],[113.8,-22.5],[114.2,-21.8],[114.6,-21.8],[115.5,-21.3],[116.7,-20.6],[117.7,-20.7],[118.9,-20.2],[120,-19.8],[121.2,-19.4],[121.6,-18.6],[122.2,-17.9],[122.3,-17],[123,-16.4],[123.6,-17.2],[123.8,-16.2],[124.5,-15.5],[125.2,-15],[125.9,-14.3],[126.8,-13.9],[127.5,-14.3],[128.2,-14.9],[128.7,-15.3],[129.3,-14.9],[129.8,-14.5],[129.6,-13.6],[130.3,-13.1],[130.4,-12.5],[130.9,-12.3],[131.7,-12.2],[132.6,-12.1],[132.6,-11.5],[133.5,-11.8],[134.5,-12],[135.3,-12.2],[136,-12],[136.8,-12.2],[136.6,-13],[136,-13.5],[135.6,-14.7],[136.3,-15.5],[137.1,-15.9],[138,-16.6],[139,-17.1],[139.5,-17.5],[140.3,-17.6],[141,-16.7],[141.4,-15.8],[141.6,-14.4],[141.5,-13.2],[141.7,-12.4],[142,-11.5],[142.5,-10.7],[142.9,-11.4],[143.2,-12.5],[143.5,-13.8],[144.3,-14.2],[145,-14.6],[145.3,-15.3],[145.4,-16.3],[145.9,-17],[146.1,-18],[146.4,-19],[147.5,-19.4],[148.4,-20.2],[149,-20.8],[149.5,-21.6],[150.1,-22.2],[150.8,-22.8],[151.3,-23.6],[152.2,-24.5],[153,-25.3],[153.2,-26.5]],
[[-160.5,22.1],[-159.4,22.2],[-159.5,21.9]],
[[-158.3,21.6],[-157.7,21.3]],
[[-157.2,21.1],[-156.8,21.1]],
[[-156.7,20.9],[-156,20.7],[-156.4,20.6]],
[[-155.9,20.2],[-155.1,19.8],[-154.8,19.5],[-155.6,19],[-156,19.7],[-155.9,20.2]]
];
let cd='';coasts.forEach(p=>{p.forEach((q,i)=>{cd+=(i?'L':'M')+mx(q[0]).toFixed(1)+','+my(q[1]).toFixed(1);});});
E('path',{d:cd,fill:'none',stroke:'#000','stroke-width':2.2,'stroke-linejoin':'round'},gMap);
[[-91,-0.5],[-23.5,15],[-24.5,16.8],[6.6,0.3],[8.7,3.5],[43.3,-11.7],[57.5,-20.2],[55.5,-21.1],[55.5,-4.6],[-172.5,-13.7],[-149.5,-17.6],[147,-2],[-61.5,16.2],[-61,14.6],[-61.2,13.2],[-61.7,12.1],[-59.5,13.1],[73.5,4],[134.5,7.5],[158,6.9],[-170,-14.3],[166,-0.5]].forEach(q=>{E('circle',{cx:mx(q[0]).toFixed(1),cy:my(q[1]).toFixed(1),r:2.2,fill:'#000'},gMap);});

/* red ground track */
function rlat(u){return 13*Math.sin(2*Math.PI*(u-218)/1442);}
let rd='';for(let u=260;u<=1660;u+=3){rd+=(u==260?'M':'L')+u+','+my(rlat(u)).toFixed(1)+' ';}
for(let u=218;u<=261;u+=3){rd+=(u==218?'M':'L')+(u+1549.5)+','+my(rlat(u)).toFixed(1)+' ';}
E('path',{d:rd,fill:'none',stroke:'#cc0000','stroke-width':1.3},gMap);
/* green dip equator */
const gp=[[260,1265],[300,1272],[350,1281],[406.7,1290],[440,1295],[453,1296.7],[490,1290],[526.7,1281.7],[560,1264],[593,1245],[620,1230],[640,1222],[654.6,1215],[680,1207],[714,1199.4],[740,1197],[773,1195],[801,1196],[844.5,1198.4],[880,1201],[915.7,1205],[950,1209],[979,1212],[1034,1213],[1084,1210],[1113.5,1211],[1161,1209],[1240.7,1210.3],[1300,1210],[1350,1210.5],[1409.5,1211.3],[1428,1212.6],[1470,1219],[1523.4,1227],[1570,1233.5],[1608,1238.6],[1653,1245.3],[1700,1252],[1750,1258.5],[1811,1265.3]];
E('polyline',{points:gp.map(p=>p.join(',')).join(' '),fill:'none',stroke:'#00ff00','stroke-width':6.5,'stroke-linejoin':'round'},gMap);
/* red eclipse squares */
for(let i=0;i<37;i++){const x=742.5+i*(1240-742.5)/36;const y=my(rlat(x));E('rect',{x:(x-5.6).toFixed(1),y:(y-6.4).toFixed(1),width:11.2,height:12.8,fill:'#ff0000'},gMap);}
/* stars */
function star(cx,cy,r){let s='';for(let i=0;i<10;i++){const a=-Math.PI/2+i*Math.PI/5;const rr=i%2?r*0.42:r;s+=(cx+rr*Math.cos(a)).toFixed(1)+','+(cy+rr*Math.sin(a)).toFixed(1)+' ';}E('polygon',{points:s,fill:'none',stroke:'#ff00ff','stroke-width':1.3},gMap);}
[[453,1296],[594,1255],[1407,1185],[1503,1203],[1653,1235.5]].forEach(p=>star(p[0],p[1],7.8));
E('rect',{x:XL,y:PT,width:XR-XL,height:PB-PT,fill:'none',stroke:'#000','stroke-width':1.2});
})();
</script>
</body></html>
